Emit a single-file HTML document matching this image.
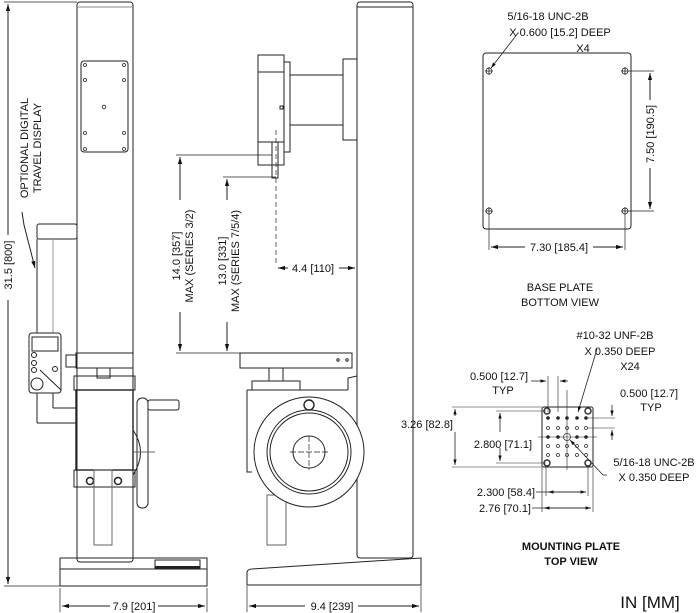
<!DOCTYPE html>
<html><head><meta charset="utf-8"><style>
html,body{margin:0;padding:0;background:#fff}
svg{display:block}
text{font-family:"Liberation Sans",sans-serif;font-size:11px;fill:#111}
</style></head><body>
<svg width="700" height="613" viewBox="0 0 700 613" xmlns="http://www.w3.org/2000/svg">
<defs>
<marker id="a" viewBox="0 0 10 10" refX="10" refY="5" markerWidth="7" markerHeight="7" orient="auto-start-reverse"><path d="M0,2 L10,5 L0,8z" fill="#111"/></marker>
</defs>
<g fill="none" stroke="#222" stroke-width="1">
<!-- LEFT VIEW -->
<rect x="77" y="2" width="56" height="560" rx="3"/>
<line x1="77" y1="7" x2="133" y2="7" stroke="#888"/>
<rect x="81" y="61" width="47" height="91" rx="3"/>
<g stroke-width="0.8">
<circle cx="85" cy="65" r="1.5"/><circle cx="124" cy="65" r="1.5"/>
<circle cx="85" cy="80" r="1.5"/><circle cx="124" cy="80" r="1.5"/>
<circle cx="104" cy="107" r="1.8"/>
<circle cx="85" cy="133" r="1.5"/><circle cx="124" cy="133" r="1.5"/>
<circle cx="85" cy="149" r="1.5"/><circle cx="124" cy="149" r="1.5"/>
</g>
<!-- display tube -->
<rect x="37" y="224" width="40" height="15" rx="2"/>
<line x1="37" y1="239" x2="37" y2="333"/><line x1="53" y1="239" x2="53" y2="333" stroke="#999"/>
<rect x="29" y="333" width="32" height="60" rx="3"/>
<rect x="32" y="337" width="26" height="14"/>
<circle cx="34" cy="355" r="2.5"/><circle cx="34" cy="363" r="2.5"/><circle cx="34" cy="370" r="2.5"/>
<circle cx="55" cy="369" r="2.5"/>
<circle cx="37" cy="384" r="6"/>
<line x1="40" y1="370" x2="61" y2="390"/>
<line x1="37" y1="393" x2="37" y2="423"/><line x1="53" y1="393" x2="53" y2="408"/>
<path d="M37,423 L77,423 M53,408 L77,408"/>
<!-- carriage -->
<rect x="66" y="355" width="10" height="12"/>
<rect x="76" y="353" width="57" height="15"/>
<rect x="97" y="368" width="13" height="10"/>
<rect x="74" y="376" width="61" height="14"/>
<rect x="76" y="390" width="57" height="80" stroke-width="1.4"/>
<rect x="74" y="470" width="61" height="17"/>
<circle cx="90" cy="481" r="3.5" stroke-width="1.5"/><circle cx="118" cy="481" r="3.5" stroke-width="1.5"/>
<rect x="94" y="470" width="18" height="75" stroke="#666"/>
<rect x="137" y="398" width="11" height="110" rx="5" fill="#fff"/>
<path d="M133,430 Q148,452 133,475"/>
<line x1="133" y1="452" x2="155" y2="452" stroke="#666"/>
<rect x="148" y="400" width="31" height="10" rx="2"/>
<!-- base -->
<rect x="60" y="558" width="147" height="28"/>
<line x1="60" y1="569" x2="207" y2="569"/>
<rect x="155" y="560" width="45" height="8"/>
<line x1="155" y1="567" x2="200" y2="567" stroke-width="2"/>
<!-- left dims -->
<line x1="4" y1="2" x2="77" y2="2" stroke-width="0.7"/>
<line x1="4" y1="586" x2="60" y2="586" stroke-width="0.7"/>
<line x1="8" y1="4" x2="8" y2="235" marker-start="url(#a)"/>
<line x1="8" y1="300" x2="8" y2="584" marker-end="url(#a)"/>
<line x1="60" y1="588" x2="60" y2="612" stroke-width="0.7"/>
<line x1="207" y1="588" x2="207" y2="612" stroke-width="0.7"/>
<line x1="62" y1="606" x2="110" y2="606" marker-start="url(#a)"/>
<line x1="158" y1="606" x2="205" y2="606" marker-end="url(#a)"/>
<path d="M22,212 L24,225 L35,268" marker-end="url(#a)"/>

<!-- MIDDLE VIEW -->
<rect x="357" y="2" width="56" height="556" rx="3"/>
<line x1="357" y1="7" x2="413" y2="7"/>
<rect x="258" y="55" width="26" height="110"/>
<line x1="258" y1="72" x2="284" y2="72"/>
<line x1="258" y1="142" x2="284" y2="142"/>
<rect x="284" y="62" width="6" height="90"/>
<rect x="290" y="75" width="53" height="50"/>
<rect x="343" y="59" width="14" height="81"/>
<rect x="280" y="106" width="3" height="3"/>
<rect x="272" y="142" width="6" height="36"/>
<line x1="276" y1="130" x2="276" y2="266" stroke-dasharray="5,3" stroke-width="0.7"/>
<!-- dims -->
<line x1="176" y1="155" x2="272" y2="155" stroke-width="0.7"/>
<line x1="223" y1="177" x2="276" y2="177" stroke-width="0.7"/>
<line x1="176" y1="353" x2="240" y2="353" stroke-width="0.7"/>
<line x1="180" y1="157" x2="180" y2="200" marker-start="url(#a)"/>
<line x1="180" y1="312" x2="180" y2="351" marker-end="url(#a)"/>
<line x1="227" y1="179" x2="227" y2="200" marker-start="url(#a)"/>
<line x1="227" y1="322" x2="227" y2="351" marker-end="url(#a)"/>
<line x1="278" y1="268" x2="288" y2="268" marker-start="url(#a)"/>
<line x1="339" y1="268" x2="355" y2="268" marker-end="url(#a)"/>
<!-- table & body -->
<rect x="240" y="353" width="112" height="15"/>
<circle cx="338" cy="360" r="1.2"/><circle cx="347" cy="360" r="1.2"/>
<rect x="269" y="368" width="14" height="13"/>
<rect x="252" y="381" width="48" height="9"/>
<path d="M247,390 L247,472 L252,472 M348,390 L348,378 L357,376 M348,390 L247,390"/>
<rect x="267" y="495" width="19" height="50" stroke="#666"/>
<circle cx="309" cy="452" r="55" fill="#fff"/>
<circle cx="309" cy="452" r="42"/>
<circle cx="309" cy="452" r="39"/>
<circle cx="309" cy="452" r="16"/>
<circle cx="309" cy="405" r="5" stroke-width="1.4"/>
<path d="M290,452 L328,452 M309,436 L309,470" stroke-dasharray="6,2" stroke-width="0.7"/>
<path d="M247,585 L247,572 Q248,569 252,569 L421,558 L421,585 Z"/>
<line x1="247" y1="586" x2="247" y2="612" stroke-width="0.7"/>
<line x1="421" y1="586" x2="421" y2="612" stroke-width="0.7"/>
<line x1="249" y1="606" x2="305" y2="606" marker-start="url(#a)"/>
<line x1="358" y1="606" x2="419" y2="606" marker-end="url(#a)"/>

<!-- BASE PLATE -->
<rect x="483" y="53" width="148" height="176" rx="3"/>
<g stroke-width="0.8">
<circle cx="489" cy="71" r="3"/><circle cx="625" cy="71" r="3"/>
<circle cx="489" cy="211" r="3"/><circle cx="625" cy="211" r="3"/>
<path d="M485,71h8M489,67v8M621,71h8M625,67v8M485,211h8M489,207v8M621,211h8M625,207v8"/>
</g>
<path d="M519,33 L518,33 L491,68" marker-end="url(#a)" stroke-width="0.8"/>
<line x1="629" y1="71" x2="654" y2="71" stroke-width="0.7"/>
<line x1="629" y1="211" x2="654" y2="211" stroke-width="0.7"/>
<line x1="650" y1="73" x2="650" y2="100" marker-start="url(#a)"/>
<line x1="650" y1="168" x2="650" y2="209" marker-end="url(#a)"/>
<line x1="489" y1="215" x2="489" y2="250" stroke-width="0.7"/>
<line x1="625" y1="215" x2="625" y2="250" stroke-width="0.7"/>
<line x1="491" y1="247" x2="525" y2="247" marker-start="url(#a)"/>
<line x1="593" y1="247" x2="623" y2="247" marker-end="url(#a)"/>

<!-- MOUNTING PLATE -->
<rect x="542" y="407" width="51" height="60" rx="2"/>
<path d="M567,390 V470 M538,437 H597" stroke-width="0.6"/>
<line x1="548" y1="376" x2="548" y2="412" stroke-width="0.6"/>
<line x1="558" y1="376" x2="558" y2="412" stroke-width="0.6"/>
<line x1="531" y1="381" x2="546" y2="381" marker-end="url(#a)" stroke-width="0.8"/>
<line x1="568" y1="381" x2="560" y2="381" marker-end="url(#a)" stroke-width="0.8"/>
<line x1="588" y1="418" x2="615" y2="418" stroke-width="0.6"/>
<line x1="588" y1="428" x2="615" y2="428" stroke-width="0.6"/>
<line x1="612" y1="405" x2="612" y2="416" marker-end="url(#a)" stroke-width="0.8"/>
<line x1="612" y1="440" x2="612" y2="430" marker-end="url(#a)" stroke-width="0.8"/>
<line x1="452" y1="407" x2="542" y2="407" stroke-width="0.6"/>
<line x1="452" y1="467" x2="542" y2="467" stroke-width="0.6"/>
<line x1="455" y1="409" x2="455" y2="416" marker-start="url(#a)" stroke-width="0.8"/>
<line x1="455" y1="432" x2="455" y2="465" marker-end="url(#a)" stroke-width="0.8"/>
<line x1="496" y1="411" x2="546" y2="411" stroke-width="0.6"/>
<line x1="496" y1="463" x2="546" y2="463" stroke-width="0.6"/>
<line x1="500" y1="413" x2="500" y2="432" marker-start="url(#a)" stroke-width="0.8"/>
<line x1="500" y1="448" x2="500" y2="461" marker-end="url(#a)" stroke-width="0.8"/>
<line x1="546" y1="465" x2="546" y2="496" stroke-width="0.6"/>
<line x1="588" y1="465" x2="588" y2="496" stroke-width="0.6"/>
<line x1="542" y1="467" x2="542" y2="512" stroke-width="0.6"/>
<line x1="593" y1="467" x2="593" y2="512" stroke-width="0.6"/>
<line x1="536" y1="492" x2="586" y2="492" marker-end="url(#a)" stroke-width="0.8"/>
<line x1="548" y1="492" x2="586" y2="492" marker-start="url(#a)" stroke-width="0.8"/>
<line x1="532" y1="508" x2="591" y2="508" marker-end="url(#a)" stroke-width="0.8"/>
<line x1="544" y1="508" x2="591" y2="508" marker-start="url(#a)" stroke-width="0.8"/>
<path d="M597,349 L578,412" marker-end="url(#a)" stroke-width="0.8"/>
<path d="M607,475 L603,475 L570,440" marker-end="url(#a)" stroke-width="0.8"/>
</g>
<g fill="#222">
<circle cx="548" cy="418" r="1.8"/><circle cx="558" cy="418" r="1.8"/><circle cx="567" cy="418" r="1.8"/><circle cx="577" cy="418" r="1.8"/><circle cx="586" cy="418" r="1.8"/>
<circle cx="548" cy="437" r="1.8"/><circle cx="558" cy="437" r="1.8"/><circle cx="577" cy="437" r="1.8"/><circle cx="586" cy="437" r="1.8"/>
</g>
<g fill="none" stroke="#333" stroke-width="0.8">
<circle cx="548" cy="428" r="1.5"/><circle cx="558" cy="428" r="1.5"/><circle cx="567" cy="428" r="1.5"/><circle cx="577" cy="428" r="1.5"/><circle cx="586" cy="428" r="1.5"/>
<circle cx="548" cy="446" r="1.5"/><circle cx="558" cy="446" r="1.5"/><circle cx="567" cy="446" r="1.5"/><circle cx="577" cy="446" r="1.5"/><circle cx="586" cy="446" r="1.5"/>
<circle cx="548" cy="455" r="1.5"/><circle cx="558" cy="455" r="1.5"/><circle cx="567" cy="455" r="1.5"/><circle cx="577" cy="455" r="1.5"/><circle cx="586" cy="455" r="1.5"/>
<circle cx="567" cy="437" r="3.5"/>
<circle cx="547" cy="411" r="3" stroke-width="1.5"/><circle cx="588" cy="411" r="3" stroke-width="1.5"/>
<circle cx="547" cy="463" r="3" stroke-width="1.5"/><circle cx="588" cy="463" r="3" stroke-width="1.5"/>
</g>

<!-- TEXT -->
<text transform="translate(12,265) rotate(-90)" text-anchor="middle">31.5 [800]</text>
<text transform="translate(28,148) rotate(-90)" text-anchor="middle">OPTIONAL DIGITAL</text>
<text transform="translate(41,148) rotate(-90)" text-anchor="middle">TRAVEL DISPLAY</text>
<text x="134" y="610" text-anchor="middle">7.9 [201]</text>
<text transform="translate(180,256) rotate(-90)" text-anchor="middle">14.0 [357]</text>
<text transform="translate(193,256) rotate(-90)" text-anchor="middle">MAX (SERIES 3/2)</text>
<text transform="translate(226,261) rotate(-90)" text-anchor="middle">13.0 [331]</text>
<text transform="translate(239,261) rotate(-90)" text-anchor="middle">MAX (SERIES 7/5/4)</text>
<text x="313" y="272" text-anchor="middle">4.4 [110]</text>
<text x="332" y="610" text-anchor="middle">9.4 [239]</text>
<text x="548" y="20" text-anchor="middle">5/16-18 UNC-2B</text>
<text x="560" y="36" text-anchor="middle">X 0.600 [15.2] DEEP</text>
<text x="583" y="52" text-anchor="middle">X4</text>
<text transform="translate(654,134) rotate(-90)" text-anchor="middle">7.50 [190.5]</text>
<text x="559" y="251" text-anchor="middle">7.30 [185.4]</text>
<text x="560" y="291" text-anchor="middle">BASE PLATE</text>
<text x="560" y="306" text-anchor="middle">BOTTOM VIEW</text>
<text x="615" y="339" text-anchor="middle">#10-32 UNF-2B</text>
<text x="620" y="355" text-anchor="middle">X 0.350 DEEP</text>
<text x="630" y="370" text-anchor="middle">X24</text>
<text x="499" y="380" text-anchor="middle">0.500 [12.7]</text>
<text x="503" y="394" text-anchor="middle">TYP</text>
<text x="649" y="397" text-anchor="middle">0.500 [12.7]</text>
<text x="651" y="411" text-anchor="middle">TYP</text>
<text x="453" y="428" text-anchor="end">3.26 [82.8]</text>
<text x="532" y="448" text-anchor="end">2.800 [71.1]</text>
<text x="654" y="466" text-anchor="middle">5/16-18 UNC-2B</text>
<text x="654" y="481" text-anchor="middle">X 0.350 DEEP</text>
<text x="535" y="496" text-anchor="end">2.300 [58.4]</text>
<text x="531" y="512" text-anchor="end">2.76 [70.1]</text>
<text x="571" y="550" text-anchor="middle" font-weight="bold">MOUNTING PLATE</text>
<text x="571" y="565" text-anchor="middle" font-weight="bold">TOP VIEW</text>
<text x="650" y="608" text-anchor="middle" style="font-size:17px">IN [MM]</text>
</svg>
</body></html>
